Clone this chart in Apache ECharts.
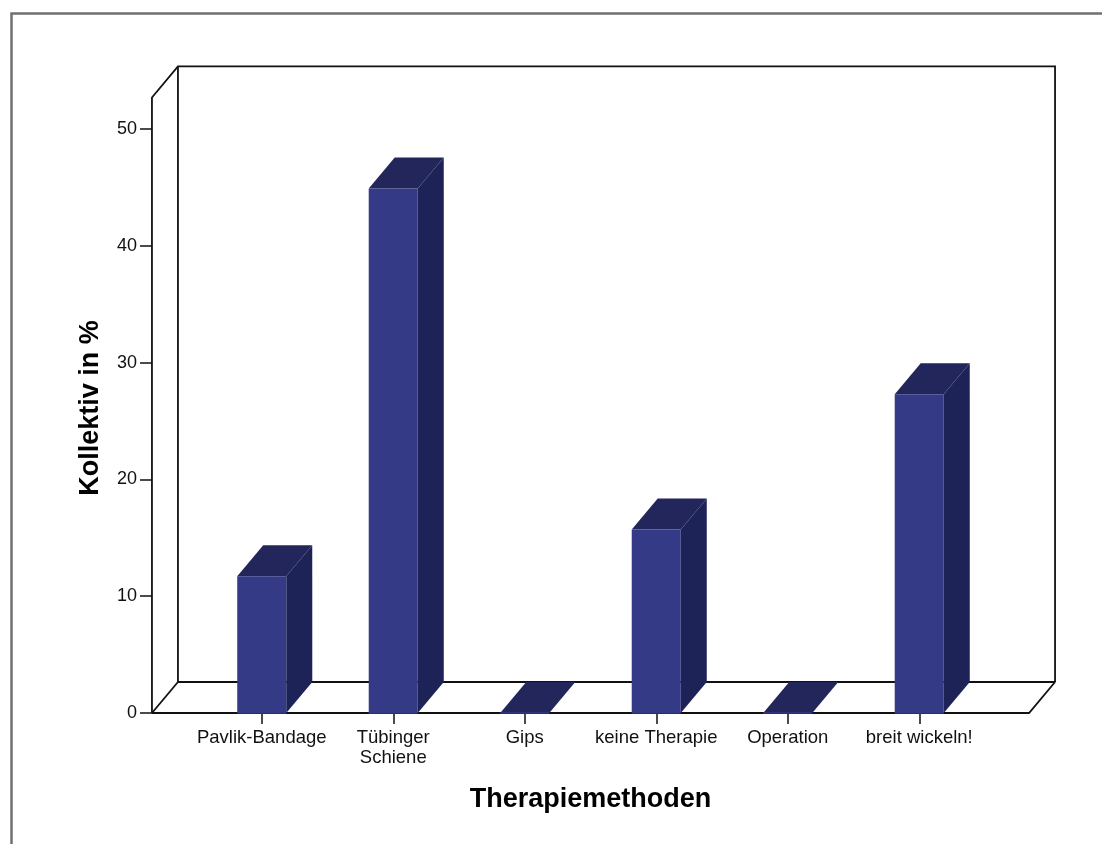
<!DOCTYPE html>
<html>
<head>
<meta charset="utf-8">
<script src="https://cdn.jsdelivr.net/npm/echarts@6/dist/echarts.min.js"></script>
<style>
  html, body { margin: 0; padding: 0; background: #fff; }
  #chart { width: 1102px; height: 844px; }
</style>
</head>
<body>
<div id="chart"></div>
<script>
// Therapy methods and share of the cohort (%)
const categories = ['Pavlik-Bandage', 'Tübinger\nSchiene', 'Gips', 'keine Therapie', 'Operation', 'breit wickeln!'];
const percentValues = [11.7, 44.9, 0, 15.7, 0, 27.3];
const yTickValues = [0, 10, 20, 30, 40, 50];

// 3D look: depth offset of bars and walls, face colours
const DX = 26, DY = -31;
const BAR_RATIO = 0.373;      // bar width as share of a category band
const WALL_EXTRA = 0.835;     // floor overhang beyond outer bands, in bands
const WALL_TOP = 52.7;        // top of the box in axis units
const FRONT = '#343a85', TOP = '#23265b', SIDE = '#1d2357';
const FONT = 'Liberation Sans, Arial, sans-serif';

const chart = echarts.init(document.getElementById('chart'), null, { renderer: 'canvas' });

function renderFrame(params, api) {
  const n = categories.length;
  const c0 = api.coord([0, 0]);
  const cN = api.coord([n - 1, 0]);
  const band = api.size([1, 0])[0];
  const xl = c0[0] - band * WALL_EXTRA;
  const xr = cN[0] + band * WALL_EXTRA;
  const yb = c0[1];
  const yt = api.coord([0, WALL_TOP])[1];
  const st = { stroke: '#111', lineWidth: 1.8, fill: null };
  const pl = pts => ({ type: 'polyline', shape: { points: pts }, style: st });
  return {
    type: 'group',
    children: [
      pl([[xl, yb], [xl, yt], [xl + DX, yt + DY], [xr + DX, yt + DY], [xr + DX, yb + DY]]),
      pl([[xl + DX, yt + DY], [xl + DX, yb + DY], [xr + DX, yb + DY]]),
      pl([[xl, yb], [xl + DX, yb + DY]]),
      pl([[xl, yb], [xr, yb], [xr + DX, yb + DY]])
    ]
  };
}

function renderBar(params, api) {
  const i = api.value(0), v = api.value(1);
  const top = api.coord([i, v]);
  const base = api.coord([i, 0]);
  const band = api.size([1, 0])[0];
  const half = band * BAR_RATIO / 2;
  const x0 = top[0] - half, x1 = top[0] + half;
  const yt = top[1], yb = base[1];
  return {
    type: 'group',
    children: [
      { type: 'polygon', shape: { points: [[x1, yt], [x1 + DX, yt + DY], [x1 + DX, yb + DY], [x1, yb]] },
        style: { fill: SIDE } },
      { type: 'polygon', shape: { points: [[x0, yt], [x1, yt], [x1 + DX, yt + DY], [x0 + DX, yt + DY]] },
        style: { fill: TOP } },
      { type: 'rect', shape: { x: x0, y: yt, width: x1 - x0, height: yb - yt },
        style: { fill: FRONT } },
      { type: 'line', shape: { x1: x0, y1: yb, x2: x1, y2: yb },
        style: { stroke: FRONT, lineWidth: 1.5 } }
    ]
  };
}

const option = {
  backgroundColor: '#fff',
  animation: false,
  graphic: [{
    type: 'rect', left: 9, top: 11, z: -10,
    shape: { x: 0, y: 0, width: 1200, height: 1000 },
    style: { fill: 'none', stroke: '#707070', lineWidth: 2.5 }
  }],
  grid: { left: 196, right: 117, top: 129, bottom: 131 },
  xAxis: {
    type: 'category',
    data: categories,
    name: 'Therapiemethoden',
    nameLocation: 'middle',
    nameGap: 73,
    nameTextStyle: { fontFamily: FONT, fontSize: 27, fontWeight: 'bold', color: '#000' },
    axisLine: { show: false },
    axisTick: { show: true, alignWithLabel: true, length: 11, lineStyle: { color: '#111', width: 1.5 } },
    axisLabel: { fontFamily: FONT, fontSize: 18.5, color: '#111', margin: 15, lineHeight: 20, interval: 0 },
    splitLine: { show: false }
  },
  yAxis: {
    type: 'value',
    min: yTickValues[0],
    max: yTickValues[yTickValues.length - 1],
    interval: yTickValues[1] - yTickValues[0],
    offset: 44,
    name: 'Kollektiv in %',
    nameLocation: 'middle',
    nameRotate: 90,
    nameGap: 48,
    nameTextStyle: { fontFamily: FONT, fontSize: 27, fontWeight: 'bold', color: '#000', padding: [0, 0, 0, 26] },
    axisLine: { show: false },
    axisTick: { show: true, length: 12, lineStyle: { color: '#111', width: 1.5 } },
    axisLabel: { fontFamily: FONT, fontSize: 18, color: '#111', margin: 15 },
    splitLine: { show: false }
  },
  series: [
    { type: 'custom', z: 1, renderItem: renderFrame, data: [[0, 0]], silent: true },
    { type: 'custom', z: 2, renderItem: renderBar,
      data: percentValues.map((v, i) => [i, v]),
      encode: { x: 0, y: 1 } }
  ]
};
chart.setOption(option);
</script>
</body>
</html>
